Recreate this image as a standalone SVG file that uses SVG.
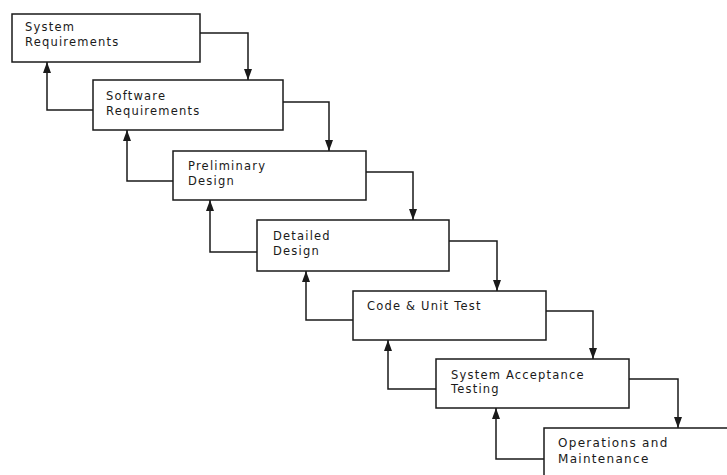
<svg xmlns="http://www.w3.org/2000/svg" width="727" height="475" viewBox="0 0 727 475">
<style>
.box{fill:#fff;stroke:#1a1a1a;stroke-width:1.5}
.ln{fill:none;stroke:#1a1a1a;stroke-width:1.5}
text{font-family:"DejaVu Sans","Liberation Sans",Arial,sans-serif;font-size:11.5px;letter-spacing:1.2px;fill:#1a1a1a}
.big{font-size:12px;letter-spacing:1.3px}
</style>
<defs>
<marker id="ah" viewBox="0 0 11 8" refX="11" refY="4" markerWidth="11" markerHeight="8" markerUnits="userSpaceOnUse" orient="auto">
<path d="M0,0 L11,4 L0,8 Z" fill="#1a1a1a"/>
</marker>
</defs>
<g id="connectors">
<path class="ln" d="M200,33 H248 V80" marker-end="url(#ah)"/>
<path class="ln" d="M93,110 H47 V62" marker-end="url(#ah)"/>
<path class="ln" d="M283,102 H329 V151" marker-end="url(#ah)"/>
<path class="ln" d="M173,181 H127 V130" marker-end="url(#ah)"/>
<path class="ln" d="M366,172 H413 V220" marker-end="url(#ah)"/>
<path class="ln" d="M257,252 H210 V200" marker-end="url(#ah)"/>
<path class="ln" d="M449,241 H497 V291" marker-end="url(#ah)"/>
<path class="ln" d="M353,320 H306 V271" marker-end="url(#ah)"/>
<path class="ln" d="M546,311 H593 V359" marker-end="url(#ah)"/>
<path class="ln" d="M436,389 H388 V340" marker-end="url(#ah)"/>
<path class="ln" d="M629,379 H678 V428" marker-end="url(#ah)"/>
<path class="ln" d="M544,459 H496 V408" marker-end="url(#ah)"/>
</g>
<g id="n1"><rect class="box" x="12" y="14" width="188" height="48"/><text x="25" y="31">System</text><text x="25" y="46">Requirements</text></g>
<g id="n2"><rect class="box" x="93" y="80" width="190" height="50"/><text x="106" y="100">Software</text><text x="106" y="115">Requirements</text></g>
<g id="n3"><rect class="box" x="173" y="151" width="193" height="49"/><text x="188" y="170">Preliminary</text><text x="188" y="185">Design</text></g>
<g id="n4"><rect class="box" x="257" y="220" width="192" height="51"/><text x="273" y="240">Detailed</text><text x="273" y="255">Design</text></g>
<g id="n5"><rect class="box" x="353" y="291" width="193" height="49"/><text x="367" y="310">Code &amp; Unit Test</text></g>
<g id="n6"><rect class="box" x="436" y="359" width="193" height="49"/><text x="451" y="379">System Acceptance</text><text x="451" y="393">Testing</text></g>
<g id="n7"><rect class="box" x="544" y="428" width="200" height="60"/><text class="big" x="558" y="447">Operations and</text><text class="big" x="558" y="463">Maintenance</text></g>
</svg>
